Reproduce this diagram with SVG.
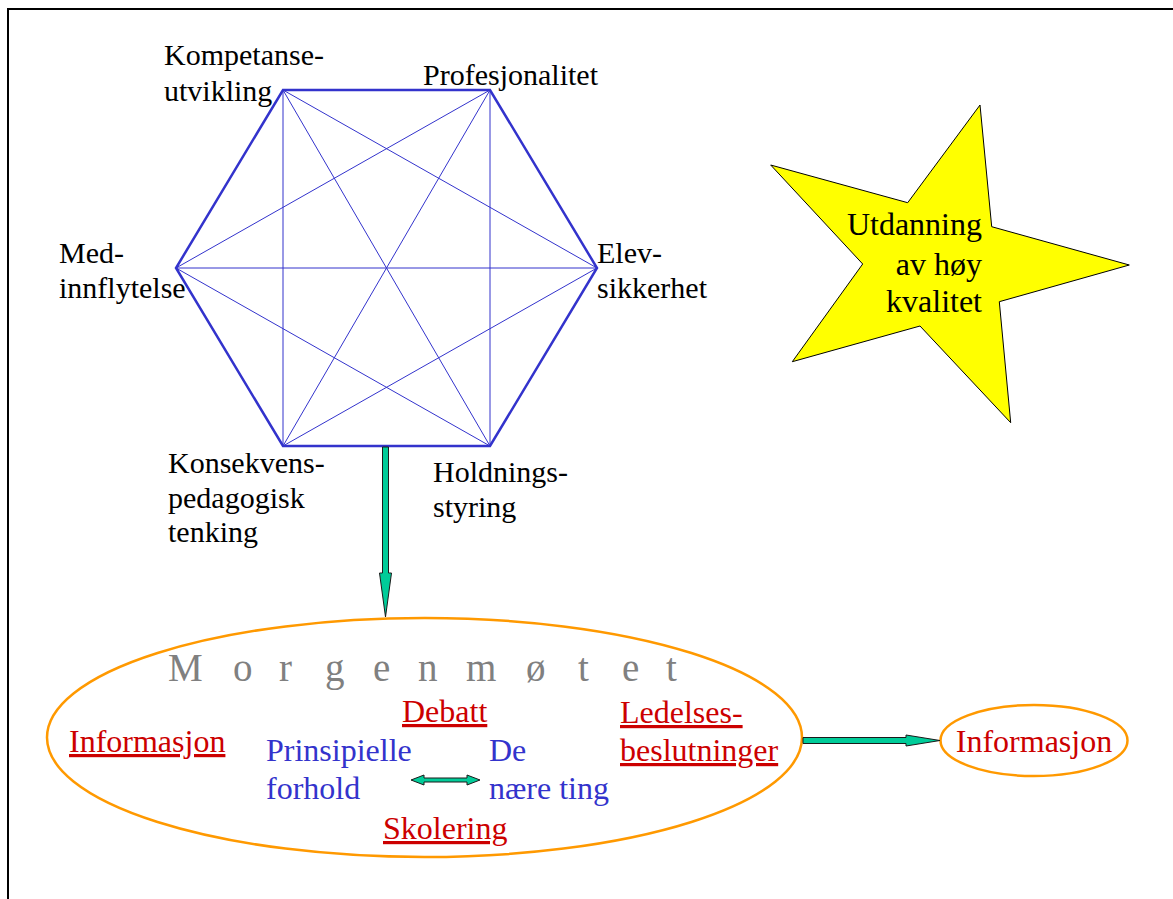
<svg xmlns="http://www.w3.org/2000/svg" width="1173" height="899" viewBox="0 0 1173 899" font-family="'Liberation Serif', 'Times New Roman', serif">
<style>
.lbl{font-size:30px;fill:#000}
.big{font-size:32px}
.red{fill:#cc0000;text-decoration:underline}
.blue{fill:#3333cc}
.hexo{fill:none;stroke:#3333cc;stroke-width:2.5}
.hexi{stroke:#3333cc;stroke-width:1}
.arr{fill:#00cc99;stroke:#1a1a1a;stroke-width:1}
.ell{fill:none;stroke:#ff9900;stroke-width:2.5}
</style>
<rect width="1173" height="899" fill="#fff"/>
<g id="frame">
<path d="M8,899 L8,9 L1173,9" fill="none" stroke="#000" stroke-width="2"/>
</g>
<g id="hexagon">
<g class="hexi">
<line x1="283" y1="90" x2="283" y2="446"/>
<line x1="283" y1="90" x2="490" y2="446"/>
<line x1="283" y1="90" x2="597" y2="268"/>
<line x1="490" y1="90" x2="490" y2="446"/>
<line x1="490" y1="90" x2="283" y2="446"/>
<line x1="490" y1="90" x2="176" y2="268"/>
<line x1="176" y1="268" x2="597" y2="268"/>
<line x1="176" y1="268" x2="490" y2="446"/>
<line x1="597" y1="268" x2="283" y2="446"/>
</g>
<polygon class="hexo" points="283,90 490,90 597,268 490,446 283,446 176,268"/>
</g>
<g id="label-kompetanse"><text class="lbl" x="164" y="65">Kompetanse-</text><text class="lbl" x="164" y="101">utvikling</text></g>
<g id="label-profesjonalitet"><text class="lbl" x="423" y="85">Profesjonalitet</text></g>
<g id="label-med"><text class="lbl" x="59" y="263">Med-</text><text class="lbl" x="59" y="298">innflytelse</text></g>
<g id="label-elev"><text class="lbl" x="597" y="263">Elev-</text><text class="lbl" x="597" y="298">sikkerhet</text></g>
<g id="label-konsekvens"><text class="lbl" x="168" y="473">Konsekvens-</text><text class="lbl" x="168" y="508">pedagogisk</text><text class="lbl" x="168" y="542">tenking</text></g>
<g id="label-holdnings"><text class="lbl" x="433" y="482">Holdnings-</text><text class="lbl" x="433" y="517">styring</text></g>
<g id="star">
<polygon points="980,105 991.7,226.7 1129.3,265 999.3,301.7 1010.7,422.7 920,326 792.3,361.7 862.7,264 770.7,165 907.7,202.7" fill="#ffff00" stroke="#000" stroke-width="1"/>
<text class="big" fill="#000" text-anchor="end"><tspan x="982" y="235">Utdanning</tspan><tspan x="982" y="275">av høy</tspan><tspan x="982" y="312">kvalitet</tspan></text>
</g>
<g id="morgenmotet">
<ellipse class="ell" cx="424.5" cy="737.5" rx="377.5" ry="119.5"/>
<text font-size="39" fill="#808080" y="681"><tspan x="168">M</tspan><tspan x="233">o</tspan><tspan x="279">r</tspan><tspan x="325">g</tspan><tspan x="373">e</tspan><tspan x="418">n</tspan><tspan x="466">m</tspan><tspan x="526">ø</tspan><tspan x="578">t</tspan><tspan x="622">e</tspan><tspan x="666">t</tspan></text>
<text class="big red" x="69" y="752">Informasjon</text>
<text class="big red" x="402" y="722">Debatt</text>
<text class="big red"><tspan x="620" y="723">Ledelses-</tspan><tspan x="620" y="761">beslutninger</tspan></text>
<text class="big red" x="383" y="839">Skolering</text>
<text class="big blue"><tspan x="266" y="761">Prinsipielle</tspan><tspan x="266" y="799">forhold</tspan></text>
<text class="big blue"><tspan x="489" y="761">De</tspan><tspan x="489" y="799">nære ting</tspan></text>
</g>
<g id="informasjon">
<ellipse class="ell" cx="1034" cy="740.5" rx="93.5" ry="35.5"/>
<text class="big" fill="#cc0000" text-anchor="middle" x="1034" y="752">Informasjon</text>
</g>
<g id="connectors">
<polygon class="arr" points="382.5,447 388.5,447 388.5,573 391.5,573 385.5,617 379.5,573 382.5,573"/>
<polygon class="arr" points="803,737.5 906,737.5 906,735 940,740.5 906,746 906,743.5 803,743.5"/>
<polygon class="arr" points="411,780 424,775 424,778 467,778 467,775 480,780 467,785 467,782 424,782 424,785"/>
</g>
</svg>
